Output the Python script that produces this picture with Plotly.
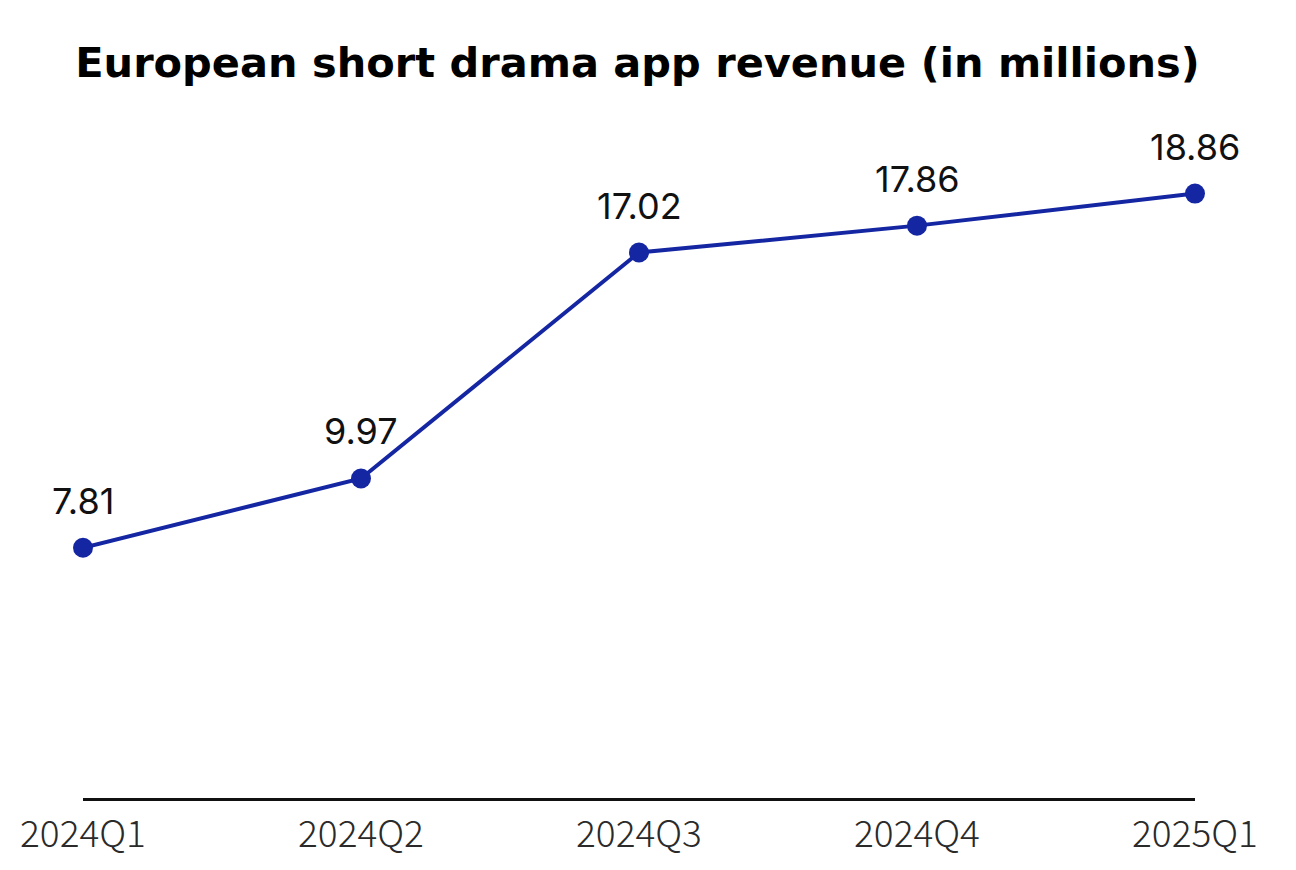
import plotly.graph_objects as go

quarters = ["2024Q1", "2024Q2", "2024Q3", "2024Q4", "2025Q1"]
revenue = [7.81, 9.97, 17.02, 17.86, 18.86]
labels = ["7.81", "9.97", "17.02", "17.86", "18.86"]
title_text = "European short drama app revenue (in millions)"

line_color = "#1526A3"

fig = go.Figure(
    go.Scatter(
        x=quarters,
        y=revenue,
        mode="lines+markers",
        line=dict(color=line_color, width=4),
        marker=dict(color=line_color, size=20),
        cliponaxis=False,
        hoverinfo="skip",
    )
)

for q, v, t in zip(quarters, revenue, labels):
    fig.add_annotation(
        x=q, y=v, text=t, showarrow=False,
        xanchor="center", yanchor="middle", yshift=47,
        font=dict(family="Inter", size=36, color="#111111"),
    )

fig.update_layout(
    width=1296,
    height=870,
    paper_bgcolor="white",
    plot_bgcolor="white",
    margin=dict(l=75, r=109, t=117, b=80),
    showlegend=False,
    title=dict(
        text="<b>" + title_text + "</b>",
        x=629.5 / 1296,
        xanchor="center",
        xref="container",
        y=1 - 54 / 870,
        yanchor="middle",
        font=dict(family="DejaVu Sans", size=41.5, color="#000000"),
    ),
    xaxis=dict(
        type="category",
        range=[0, 4],
        showgrid=False,
        zeroline=False,
        showline=True,
        linecolor="#111111",
        linewidth=3,
        ticks="outside",
        ticklen=2,
        tickcolor="rgba(0,0,0,0)",
        tickfont=dict(family="Noto Sans CJK SC", size=37, color="#2a2a2a", weight=300),
    ),
    yaxis=dict(
        range=[0, 21],
        visible=False,
        showgrid=False,
        zeroline=False,
    ),
)

fig.write_html("out.html")
